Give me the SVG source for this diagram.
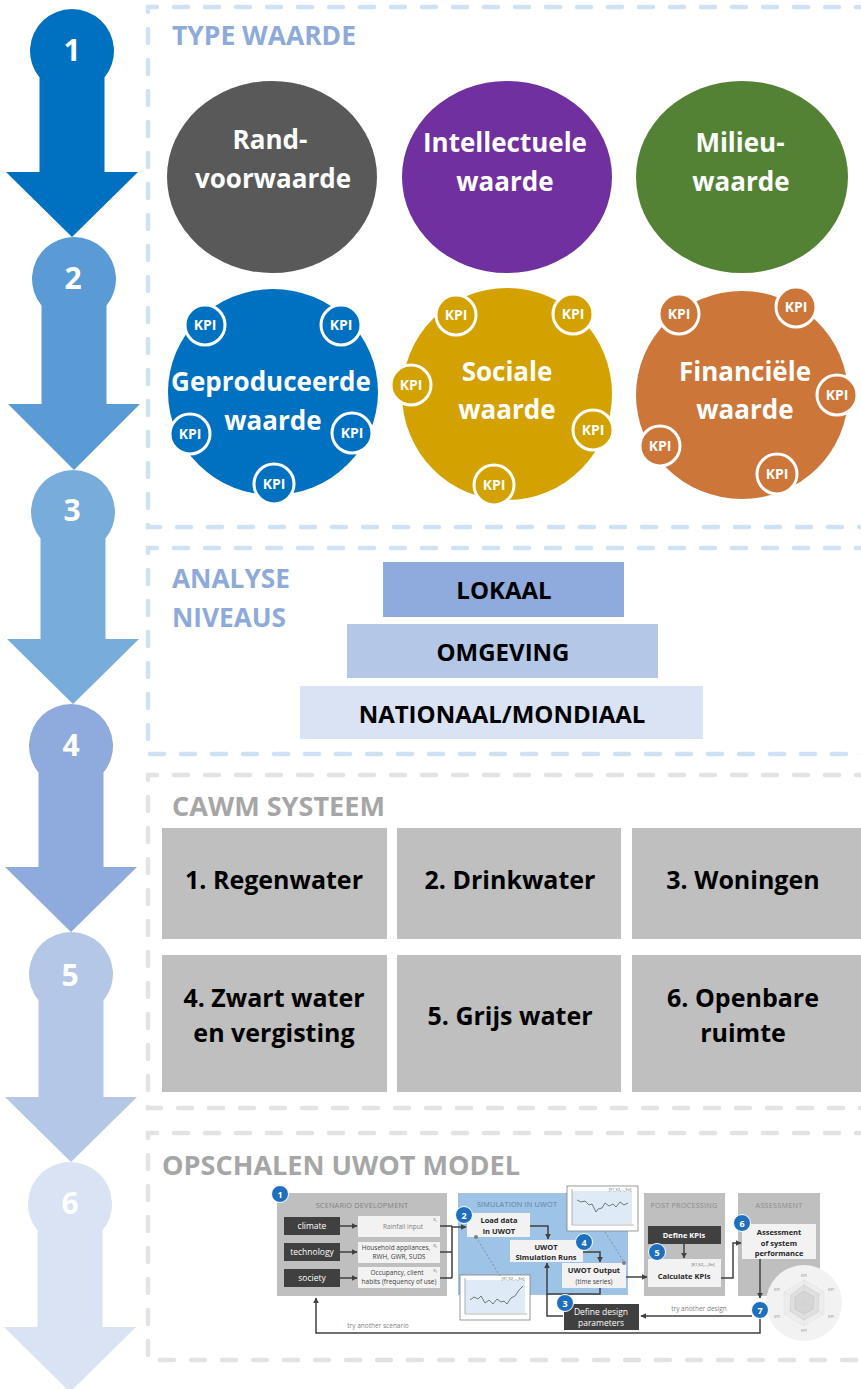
<svg xmlns="http://www.w3.org/2000/svg" width="861" height="1389" viewBox="0 0 861 1389">
<defs>
<style>
.t{font-family:"Open Sans","Liberation Sans",sans-serif;font-weight:700;text-anchor:middle}
.w{fill:#fff}
.num{font-size:30px}
.big{font-size:26px}
.kpi{font-size:14px}
.hd{font-family:"Open Sans","Liberation Sans",sans-serif;font-weight:700;font-size:27px}
.blu{fill:#8eaadb}
.gry{fill:#a6a6a6}
.fb{fill:none;stroke:#cfe2f3;stroke-width:4.5;stroke-dasharray:14 17;stroke-linecap:round}
.fg{fill:none;stroke:#e3e3e3;stroke-width:4.5;stroke-dasharray:14 17;stroke-linecap:round}
.lvl{font-size:24px;fill:#000}
.cell{fill:#bfbfbf}
.ct{font-size:25px;fill:#000}
.s{font-family:"Open Sans","Liberation Sans",sans-serif;text-anchor:middle}
.ptl{font-size:7.3px;fill:#808080;letter-spacing:0.2px}
.dk{fill:#404040}
.lt{fill:#f2f2f2}
.sw{font-size:8.5px;fill:#fff}
.sb{font-size:7.5px;font-weight:700;fill:#262626}
.sn{font-size:6.5px;fill:#404040}
.tiny{font-size:4px;fill:#595959}
.ln{fill:none;stroke:#404040;stroke-width:1.5}
.dash{fill:none;stroke:#8c8c8c;stroke-width:1;stroke-dasharray:2 2}
.bdg{fill:#1f6fbf;stroke:#fff;stroke-width:1}
.bt{font-family:"Open Sans","Liberation Sans",sans-serif;font-weight:700;font-size:9px;fill:#fff;text-anchor:middle}
</style>
<marker id="ah" viewBox="0 0 10 10" refX="9" refY="5" markerWidth="4" markerHeight="4" orient="auto"><path d="M0,0 L10,5 L0,10 Z" fill="#404040"/></marker>
</defs>

<!-- frames -->
<g id="frames">
<path class="fb" d="M870,7 H148 V527 H870"/>
<path class="fb" d="M870,548 H148 V754 H870"/>
<path class="fg" d="M870,775 H148 V1108 H870"/>
<path class="fg" d="M870,1133 H148 V1360 H870"/>
</g>

<!-- step arrows -->
<g id="step1"><path fill="#0070c0" d="M39.5,77.6 A42,42 0 1 1 104.5,77.6 L104.5,172 L138,172 L72,237 L6,172 L39.5,172 Z"/><text class="t w num" x="72" y="61">1</text></g>
<g id="step2"><path fill="#5b9bd5" d="M41.5,305.6 A42,42 0 1 1 106.5,305.6 L106.5,404 L140,404 L74,470 L8,404 L41.5,404 Z"/><text class="t w num" x="73" y="289">2</text></g>
<g id="step3"><path fill="#78acdb" d="M40.5,538.6 A42,42 0 1 1 105.5,538.6 L105.5,639 L139,639 L73,704 L7,639 L40.5,639 Z"/><text class="t w num" x="72" y="521">3</text></g>
<g id="step4"><path fill="#8faadc" d="M38.5,772.6 A42,42 0 1 1 103.5,772.6 L103.5,867 L137,867 L71,932 L5,867 L38.5,867 Z"/><text class="t w num" x="71" y="756">4</text></g>
<g id="step5"><path fill="#b4c7e7" d="M38.5,1000.6 A42,42 0 1 1 103.5,1000.6 L103.5,1097 L137,1097 L71,1162 L5,1097 L38.5,1097 Z"/><text class="t w num" x="70" y="986">5</text></g>
<g id="step6"><path fill="#dae3f3" d="M37.5,1230.6 A42,42 0 1 1 102.5,1230.6 L102.5,1327 L136,1327 L70,1392 L4,1327 L37.5,1327 Z"/><text class="t w num" x="70" y="1214">6</text></g>

<!-- headers -->
<text class="hd blu" x="172" y="45" textLength="184" lengthAdjust="spacingAndGlyphs">TYPE WAARDE</text>
<text class="hd blu" x="172" y="588" textLength="118" lengthAdjust="spacingAndGlyphs">ANALYSE</text>
<text class="hd blu" x="172" y="627" textLength="114" lengthAdjust="spacingAndGlyphs">NIVEAUS</text>
<text class="hd gry" x="172" y="816" textLength="213" lengthAdjust="spacingAndGlyphs">CAWM SYSTEEM</text>
<text class="hd gry" x="162" y="1175" textLength="358" lengthAdjust="spacingAndGlyphs">OPSCHALEN UWOT MODEL</text>

<!-- type waarde row 1 -->
<g id="randvoorwaarde"><ellipse cx="272" cy="177" rx="105" ry="96" fill="#595959"/><text class="t w big" x="270" y="149">Rand-</text><text class="t w big" x="273" y="188">voorwaarde</text></g>
<g id="intellectuele"><ellipse cx="507" cy="177" rx="105" ry="96" fill="#7030a0"/><text class="t w big" x="505" y="152">Intellectuele</text><text class="t w big" x="505" y="191">waarde</text></g>
<g id="milieu"><ellipse cx="742" cy="177" rx="106" ry="96" fill="#548235"/><text class="t w big" x="740" y="152">Milieu-</text><text class="t w big" x="741" y="191">waarde</text></g>

<!-- row 2 -->
<g id="geproduceerde">
<ellipse cx="273" cy="392" rx="105" ry="103" fill="#0070c0"/>
<text class="t w big" x="271" y="391">Geproduceerde</text><text class="t w big" x="273" y="430">waarde</text>
<g><circle cx="205" cy="325" r="20" fill="#0070c0" stroke="#fff" stroke-width="3"/><text class="t w kpi" x="205" y="330">KPI</text></g>
<g><circle cx="341" cy="325" r="20" fill="#0070c0" stroke="#fff" stroke-width="3"/><text class="t w kpi" x="341" y="330">KPI</text></g>
<g><circle cx="190" cy="434" r="20" fill="#0070c0" stroke="#fff" stroke-width="3"/><text class="t w kpi" x="190" y="439">KPI</text></g>
<g><circle cx="352" cy="433" r="20" fill="#0070c0" stroke="#fff" stroke-width="3"/><text class="t w kpi" x="352" y="438">KPI</text></g>
<g><circle cx="274" cy="484" r="20" fill="#0070c0" stroke="#fff" stroke-width="3"/><text class="t w kpi" x="274" y="489">KPI</text></g>
</g>
<g id="sociale">
<ellipse cx="507" cy="394" rx="105" ry="106" fill="#d4a200"/>
<text class="t w big" x="507" y="381">Sociale</text><text class="t w big" x="507" y="419">waarde</text>
<g><circle cx="456" cy="315" r="20" fill="#d4a200" stroke="#fff" stroke-width="3"/><text class="t w kpi" x="456" y="320">KPI</text></g>
<g><circle cx="573" cy="314" r="20" fill="#d4a200" stroke="#fff" stroke-width="3"/><text class="t w kpi" x="573" y="319">KPI</text></g>
<g><circle cx="411" cy="385" r="20" fill="#d4a200" stroke="#fff" stroke-width="3"/><text class="t w kpi" x="411" y="390">KPI</text></g>
<g><circle cx="593" cy="430" r="20" fill="#d4a200" stroke="#fff" stroke-width="3"/><text class="t w kpi" x="593" y="435">KPI</text></g>
<g><circle cx="494" cy="485" r="20" fill="#d4a200" stroke="#fff" stroke-width="3"/><text class="t w kpi" x="494" y="490">KPI</text></g>
</g>
<g id="financiele">
<ellipse cx="742" cy="395" rx="106" ry="104" fill="#cd763a"/>
<text class="t w big" x="745" y="381">Financiële</text><text class="t w big" x="745" y="419">waarde</text>
<g><circle cx="679" cy="314" r="20" fill="#cd763a" stroke="#fff" stroke-width="3"/><text class="t w kpi" x="679" y="319">KPI</text></g>
<g><circle cx="796" cy="307" r="20" fill="#cd763a" stroke="#fff" stroke-width="3"/><text class="t w kpi" x="796" y="312">KPI</text></g>
<g><circle cx="837" cy="395" r="20" fill="#cd763a" stroke="#fff" stroke-width="3"/><text class="t w kpi" x="837" y="400">KPI</text></g>
<g><circle cx="660" cy="446" r="20" fill="#cd763a" stroke="#fff" stroke-width="3"/><text class="t w kpi" x="660" y="451">KPI</text></g>
<g><circle cx="777" cy="474" r="20" fill="#cd763a" stroke="#fff" stroke-width="3"/><text class="t w kpi" x="777" y="479">KPI</text></g>
</g>

<!-- analyse niveaus -->
<g id="lokaal"><rect x="383" y="562" width="241" height="55" fill="#8faadc"/><text class="t lvl" x="504" y="599">LOKAAL</text></g>
<g id="omgeving"><rect x="347" y="624" width="311" height="54" fill="#b4c7e7"/><text class="t lvl" x="503" y="661">OMGEVING</text></g>
<g id="nationaal"><rect x="300" y="686" width="403" height="53" fill="#dae3f3"/><text class="t lvl" x="502" y="723">NATIONAAL/MONDIAAL</text></g>

<!-- CAWM -->
<g id="c1"><rect class="cell" x="162" y="828" width="225" height="111"/><text class="t ct" x="274" y="889">1. Regenwater</text></g>
<g id="c2"><rect class="cell" x="397" y="828" width="224" height="111"/><text class="t ct" x="510" y="889">2. Drinkwater</text></g>
<g id="c3"><rect class="cell" x="632" y="828" width="229" height="111"/><text class="t ct" x="743" y="889">3. Woningen</text></g>
<g id="c4"><rect class="cell" x="162" y="955" width="225" height="137"/><text class="t ct" x="274" y="1007">4. Zwart water</text><text class="t ct" x="274" y="1042">en vergisting</text></g>
<g id="c5"><rect class="cell" x="397" y="955" width="224" height="137"/><text class="t ct" x="510" y="1025">5. Grijs water</text></g>
<g id="c6"><rect class="cell" x="632" y="955" width="229" height="137"/><text class="t ct" x="743" y="1007">6. Openbare</text><text class="t ct" x="743" y="1042">ruimte</text></g>

<!-- UWOT model -->
<g id="uwot-panels">
<rect x="277" y="1193" width="170" height="103" fill="#bfbfbf"/>
<rect x="458" y="1193" width="170" height="102" fill="#9dc3e6"/>
<rect x="644" y="1193" width="81" height="103" fill="#bfbfbf"/>
<rect x="738" y="1193" width="82" height="103" fill="#bfbfbf"/>
<text class="s ptl" x="362" y="1208">SCENARIO DEVELOPMENT</text>
<text class="s ptl" x="517" y="1207" style="fill:#5f7f9f">SIMULATION IN UWOT</text>
<text class="s ptl" x="684" y="1208" style="fill:#8c8c8c">POST PROCESSING</text>
<text class="s ptl" x="779" y="1208" style="fill:#8c8c8c">ASSESSMENT</text>
</g>

<g id="radar">
<circle cx="804" cy="1303" r="38" fill="#f2f2f2"/>
<polygon points="804,1280 824,1292 824,1314 804,1326 784,1314 784,1292" fill="#ededed" stroke="#d0d0d0" stroke-width="0.5" stroke-dasharray="1 1"/>
<polygon points="804,1285 819,1294 818,1312 804,1320 790,1311 791,1295" fill="#e0e0e0" stroke="#c4c4c4" stroke-width="0.5"/>
<polygon points="804,1291 814,1297 813,1309 804,1314 795,1309 795,1297" fill="#d6d6d6" stroke="#bdbdbd" stroke-width="0.5"/>
<path d="M804,1280 V1326 M784,1292 L824,1314 M824,1292 L784,1314" stroke="#c8c8c8" stroke-width="0.5" stroke-dasharray="1 1"/>
<text class="s tiny" x="804" y="1277" style="fill:#8c8c8c">KPI</text>
<text class="s tiny" x="831" y="1291" style="fill:#8c8c8c">KPI</text>
<text class="s tiny" x="831" y="1318" style="fill:#8c8c8c">KPI</text>
<text class="s tiny" x="804" y="1332" style="fill:#8c8c8c">KPI</text>
<text class="s tiny" x="777" y="1318" style="fill:#8c8c8c">KPI</text>
<text class="s tiny" x="777" y="1291" style="fill:#8c8c8c">KPI</text>
</g>

<g id="climate"><rect class="dk" x="284" y="1217" width="56" height="18"/><text class="s sw" x="312" y="1229">climate</text></g>
<g id="technology"><rect class="dk" x="284" y="1243" width="56" height="18"/><text class="s sw" x="312" y="1255">technology</text></g>
<g id="society"><rect class="dk" x="284" y="1269" width="56" height="18"/><text class="s sw" x="312" y="1281">society</text></g>
<g id="rainfall"><rect class="lt" x="358" y="1216" width="82" height="21"/><text class="s sn" x="403" y="1229" style="fill:#7f7f7f">Rainfall input</text><text class="s tiny" x="435" y="1221">X₁</text></g>
<g id="household"><rect class="lt" x="358" y="1242" width="82" height="21"/><text class="s sn" x="396" y="1250">Household appliances,</text><text class="s sn" x="399" y="1259">RWH, GWR, SUDS</text><text class="s tiny" x="435" y="1247">X₂</text></g>
<g id="occupancy"><rect class="lt" x="358" y="1267" width="82" height="21"/><text class="s sn" x="397" y="1275">Occupancy, client</text><text class="s sn" x="399" y="1284">habits (frequency of use)</text><text class="s tiny" x="435" y="1272">X₃</text></g>

<g id="loaddata"><rect class="lt" x="467" y="1213" width="63" height="24"/><text class="s sb" x="499" y="1223">Load data</text><text class="s sb" x="499" y="1234">in UWOT</text></g>
<g id="simruns"><rect class="lt" x="510" y="1240" width="73" height="22"/><text class="s sb" x="546" y="1250">UWOT</text><text class="s sb" x="546" y="1260">Simulation Runs</text></g>
<g id="output"><rect class="lt" x="562" y="1263" width="64" height="25"/><text class="s sb" x="594" y="1273">UWOT Output</text><text class="s sn" x="594" y="1284">(time series)</text></g>
<g id="design"><rect class="dk" x="564" y="1304" width="75" height="26"/><text class="s sw" x="601" y="1315">Define design</text><text class="s sw" x="601" y="1326">parameters</text></g>

<g id="chart-y">
<rect x="567" y="1186" width="71" height="45" fill="#fff" stroke="#808080" stroke-width="0.8"/>
<rect x="572" y="1191" width="60" height="33" fill="#deebf7"/>
<path d="M572,1189 V1225 H634" fill="none" stroke="#808080" stroke-width="0.6"/>
<polyline points="577,1200 581,1202 585,1201 589,1205 592,1204 596,1212 598,1209 602,1208 605,1203 609,1206 613,1204 616,1207 620,1202 624,1205 628,1203" fill="none" stroke="#595959" stroke-width="0.8"/>
<text class="s tiny" x="620" y="1191">[Y1,Y2,...,Yn]</text>
</g>
<g id="chart-x">
<rect x="460" y="1275" width="70" height="45" fill="#fff" stroke="#808080" stroke-width="0.8"/>
<rect x="465" y="1280" width="60" height="33" fill="#deebf7"/>
<path d="M465,1278 V1314 H527" fill="none" stroke="#808080" stroke-width="0.6"/>
<polyline points="470,1300 474,1297 478,1299 481,1296 485,1303 489,1300 493,1304 497,1299 501,1302 504,1301 507,1304 511,1298 515,1296 519,1290 523,1286" fill="none" stroke="#595959" stroke-width="0.8"/>
<text class="s tiny" x="513" y="1280">[X1,X2,...,Xn]</text>
</g>

<g id="definekpis"><rect class="dk" x="648" y="1226" width="73" height="18"/><text class="s sw" x="684" y="1238" style="font-size:7.5px;font-weight:700">Define KPIs</text></g>
<g id="calckpis"><rect class="lt" x="648" y="1259" width="73" height="28"/><text class="s sb" x="684" y="1279">Calculate KPIs</text><text class="s tiny" x="703" y="1266">[K1,K2,...,Kn]</text></g>
<g id="assessbox"><rect class="lt" x="742" y="1224" width="74" height="35"/><text class="s sb" x="779" y="1235">Assessment</text><text class="s sb" x="779" y="1246">of system</text><text class="s sb" x="779" y="1256">performance</text></g>

<g id="connectors">
<path class="ln" d="M340,1226 H357" marker-end="url(#ah)"/>
<path class="ln" d="M340,1252 H357" marker-end="url(#ah)"/>
<path class="ln" d="M340,1278 H357" marker-end="url(#ah)"/>
<path class="ln" d="M440,1226 H452 M440,1252 H452 M440,1278 H452 M452,1226 V1278"/>
<path class="ln" d="M452,1227 H466" marker-end="url(#ah)"/>
<path class="ln" d="M530,1226 H548 V1239" marker-end="url(#ah)"/>
<path class="ln" d="M583,1252 H600 V1262" marker-end="url(#ah)"/>
<path class="ln" d="M600,1288 V1294 H547 V1263" marker-end="url(#ah)"/>
<path class="ln" d="M563,1316 H547 V1294"/>
<path class="ln" d="M626,1277 H647" marker-end="url(#ah)"/>
<path class="ln" d="M684,1244 V1258" marker-end="url(#ah)"/>
<path class="ln" d="M721,1278 H733 V1243 H741" marker-end="url(#ah)"/>
<path class="ln" d="M760,1259 V1298" marker-end="url(#ah)"/>
<path class="ln" d="M752,1316 H641" marker-end="url(#ah)"/>
<path class="ln" d="M760,1318 V1333 H316 V1298" marker-end="url(#ah)"/>
<path class="dash" d="M605,1232 L624,1262"/>
<circle cx="624" cy="1263" r="2" fill="#808080"/>
<path class="dash" d="M476,1237 L500,1276"/>
<circle cx="476" cy="1237" r="2" fill="#808080"/>
<text class="s sn" x="699" y="1311" style="fill:#7f7f7f">try another design</text>
<text class="s sn" x="378" y="1328" style="fill:#7f7f7f">try another scenario</text>
</g>

<g id="badges">
<g><circle class="bdg" cx="280" cy="1194" r="8.5"/><text class="bt" x="280" y="1197.5">1</text></g>
<g><circle class="bdg" cx="464" cy="1215" r="8.5"/><text class="bt" x="464" y="1218.5">2</text></g>
<g><circle class="bdg" cx="565" cy="1303" r="8.5"/><text class="bt" x="565" y="1306.5">3</text></g>
<g><circle class="bdg" cx="584" cy="1242" r="8.5"/><text class="bt" x="584" y="1245.5">4</text></g>
<g><circle class="bdg" cx="657" cy="1252" r="8.5"/><text class="bt" x="657" y="1255.5">5</text></g>
<g><circle class="bdg" cx="742" cy="1223" r="8.5"/><text class="bt" x="742" y="1226.5">6</text></g>
<g><circle class="bdg" cx="760" cy="1310" r="8.5"/><text class="bt" x="760" y="1313.5">7</text></g>
</g>
</svg>
